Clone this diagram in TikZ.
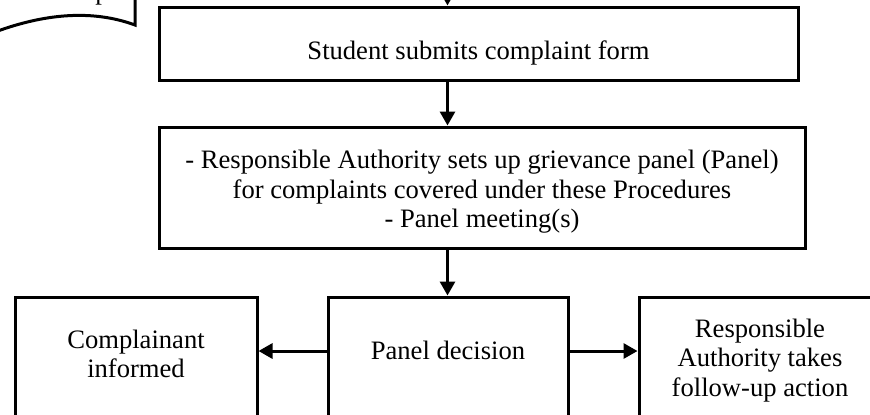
\documentclass[tikz,border=0pt]{standalone}
\usepackage{fontspec}
\setmainfont{Liberation Serif}
\usetikzlibrary{arrows.meta}
\tikzset{
  box/.style={draw, line width=1.5pt, align=center, inner xsep=0pt,
    font=\fontsize{13.3}{14.75}\selectfont},
  arr/.style={line width=1.5pt, -{Triangle[length=7pt,width=7.5pt]}}
}
\begin{document}
\begin{tikzpicture}[x=0.5pt,y=-0.5pt]
        \useasboundingbox (0,0) rectangle (870,414);
        %% Document shape, cut off at the corner
        \draw[line width=1.5pt] (135,-10) -- (135,25) .. controls (105,14) and (60,8) .. (-5,32);
        \node[anchor=base west, inner sep=0pt, font=\fontsize{13.3}{14.75}\selectfont] (doc) at (95,-0.5) {p};
        %% Upper boxes
        \node[box, minimum width=319.5pt, minimum height=36.5pt, inner ysep=0pt,
              text height=17.5pt, text depth=2pt] (submit) at (478.5,43.5)
              {Student submits complaint form};
        \node[box, minimum width=323pt, minimum height=60.5pt, inner ysep=0pt] (panelset) at (482,187.5)
              {\rule{0pt}{13.4pt}- Responsible Authority sets up grievance panel (Panel)\\
               for complaints covered under these Procedures\\
               - Panel meeting(s)};
        %% Lower boxes, cut off at the bottom
        \node[box, anchor=north, minimum width=121pt, inner ysep=16.35pt, text depth=60pt] (informed) at (136,295.5)
              {Complainant\\ informed};
        \node[box, anchor=north, minimum width=120pt, inner ysep=21.85pt, text depth=60pt] (decision) at (448,295.5)
              {Panel decision};
        \node[box, anchor=north, minimum width=121pt, inner ysep=10.85pt, text depth=60pt] (followup) at (760,295.5)
              {Responsible\\ Authority takes\\ follow-up action};
        %% Connectors
        \coordinate (in) at (447.5,-10);
        \coordinate (mid) at (0,351);
        \draw[arr] (in) -- (submit.north -| in);
        \draw[arr] (submit.south -| in) -- (panelset.north -| in);
        \draw[arr] (panelset.south -| in) -- (decision.north -| in);
        \draw[arr] (decision.west |- mid) -- (informed.east |- mid);
        \draw[arr] (decision.east |- mid) -- (followup.west |- mid);
\end{tikzpicture}
\end{document}
